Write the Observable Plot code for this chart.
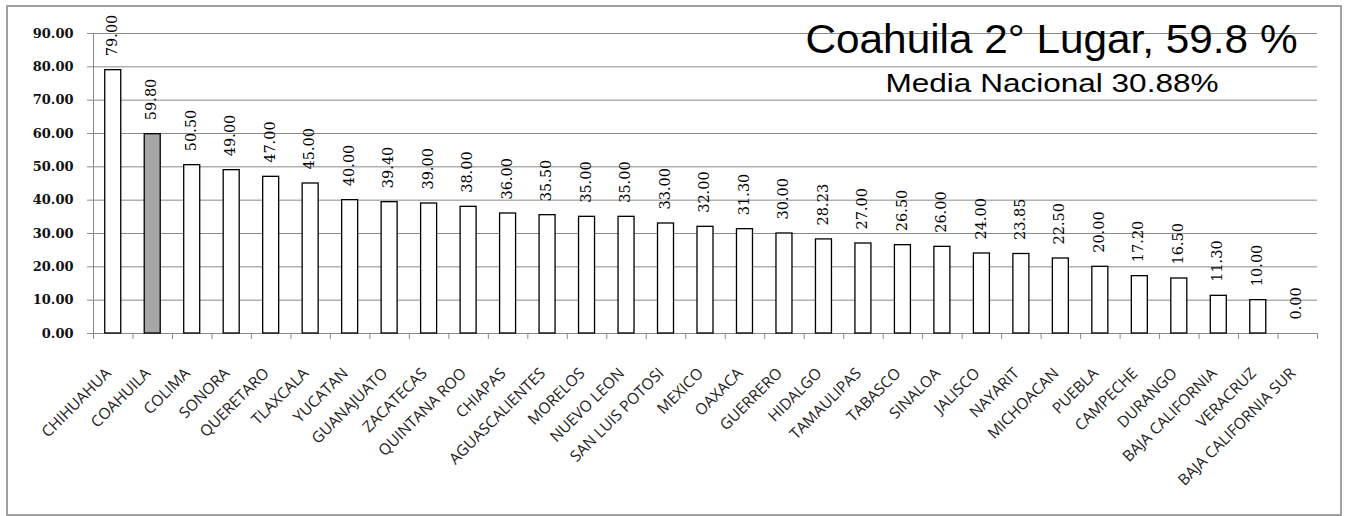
<!DOCTYPE html>
<html>
<head>
<meta charset="utf-8">
<script src="https://cdn.jsdelivr.net/npm/d3@7"></script>
<script src="https://cdn.jsdelivr.net/npm/@observablehq/plot@0.6"></script>
<style>
  html, body { margin: 0; padding: 0; background: #fff; }
  #wrap { position: relative; width: 1346px; height: 516px; overflow: hidden; }
  #border { position: absolute; left: 6px; top: 5px; width: 1332px; height: 507px; border: 2px solid #a0a0a0; pointer-events: none; }
  #chart { position: absolute; left: 0; top: 0; }
</style>
</head>
<body>
<div id="wrap"><div id="chart"></div><div id="border"></div></div>
<script>
const states = ["CHIHUAHUA","COAHUILA","COLIMA","SONORA","QUERETARO","TLAXCALA","YUCATAN","GUANAJUATO","ZACATECAS","QUINTANA ROO","CHIAPAS","AGUASCALIENTES","MORELOS","NUEVO LEON","SAN LUIS POTOSI","MEXICO","OAXACA","GUERRERO","HIDALGO","TAMAULIPAS","TABASCO","SINALOA","JALISCO","NAYARIT","MICHOACAN","PUEBLA","CAMPECHE","DURANGO","BAJA CALIFORNIA","VERACRUZ","BAJA CALIFORNIA SUR"];
const values = [79.00,59.80,50.50,49.00,47.00,45.00,40.00,39.40,39.00,38.00,36.00,35.50,35.00,35.00,33.00,32.00,31.30,30.00,28.23,27.00,26.50,26.00,24.00,23.85,22.50,20.00,17.20,16.50,11.30,10.00,0.00];
const yTicks = [0,10,20,30,40,50,60,70,80,90];
const highlight = "COAHUILA";
const title = "Coahuila 2° Lugar, 59.8 %";
const subtitle = "Media Nacional 30.88%";

const data = states.map((s, i) => ({state: s, value: values[i]}));

const W = 1346, H = 516, mL = 93, mR = 29, mT = 33, mB = 183;
const bw = (W - mL - mR) / states.length;
const barW = 16;
const inset = (bw - barW) / 2;
const tickLen = 6 * 90 / (H - mT - mB); // 6px in data units

const gray = "#8a8a8a";

const chart = Plot.plot({
  width: W, height: H,
  marginLeft: mL, marginRight: mR, marginTop: mT, marginBottom: mB,
  style: {fontFamily: "'Liberation Sans', Arial, sans-serif", background: "transparent"},
  x: {domain: states, padding: 0, round: false, axis: null},
  y: {domain: [0, 90], axis: null},
  marks: [
    // gridlines (with left tick marks)
    Plot.ruleY(yTicks, {stroke: gray, strokeWidth: 1, insetLeft: -6}),
    // y axis line
    Plot.ruleX([states[0]], {x: d => d, y1: 0, y2: 90, dx: -bw / 2, stroke: gray, strokeWidth: 1}),
    // x boundary ticks
    Plot.ruleX(states, {x: d => d, y1: 0, y2: -tickLen, dx: -bw / 2, stroke: gray, strokeWidth: 1}),
    Plot.ruleX([states[states.length - 1]], {x: d => d, y1: 0, y2: -tickLen, dx: bw / 2, stroke: gray, strokeWidth: 1}),
    // y tick labels
    Plot.text(yTicks, {y: d => d, text: d => d3.format(".2f")(d), frameAnchor: "left", textAnchor: "end", dx: -20, fontFamily: "'DejaVu Serif', serif", fontWeight: "bold", fontSize: 13, fill: "#111"}),
    // bars
    Plot.barY(data, {x: "state", y: "value", fill: d => d.state === highlight ? "#a6a6a6" : "#ffffff", stroke: "#000", strokeWidth: 1.3, insetLeft: inset, insetRight: inset}),
    // value labels
    Plot.text(data, {x: "state", y: "value", text: d => d.value.toFixed(2), rotate: -90, textAnchor: "start", dy: -14, dx: -1, fontFamily: "'DejaVu Serif', serif", fontSize: 14.5, fill: "#000"}),
    // x labels
    Plot.text(states, {x: d => d, frameAnchor: "bottom", text: d => d, rotate: -45, textAnchor: "end", lineAnchor: "top", dx: -9, dy: 33, fontFamily: "'Open Sans', sans-serif", fontSize: 15.5, fill: "#222"}),
    // title
    Plot.text([title], {text: d => d, frameAnchor: "top-right", textAnchor: "end", lineAnchor: "top", dx: -20, dy: -10, fontSize: 41, fill: "#000"}),
    Plot.text([subtitle], {text: d => d, frameAnchor: "top-right", textAnchor: "end", lineAnchor: "top", dx: -99, dy: 40.5, fontSize: 26, fill: "#000"})
  ]
});

d3.select(chart).selectAll("text").each(function() {
  const t = this.textContent;
  if (t === title) d3.select(this).attr("textLength", 492).attr("lengthAdjust", "spacingAndGlyphs");
  if (t === subtitle) d3.select(this).attr("textLength", 333).attr("lengthAdjust", "spacingAndGlyphs");
});

document.getElementById("chart").appendChild(chart);
</script>
</body>
</html>
